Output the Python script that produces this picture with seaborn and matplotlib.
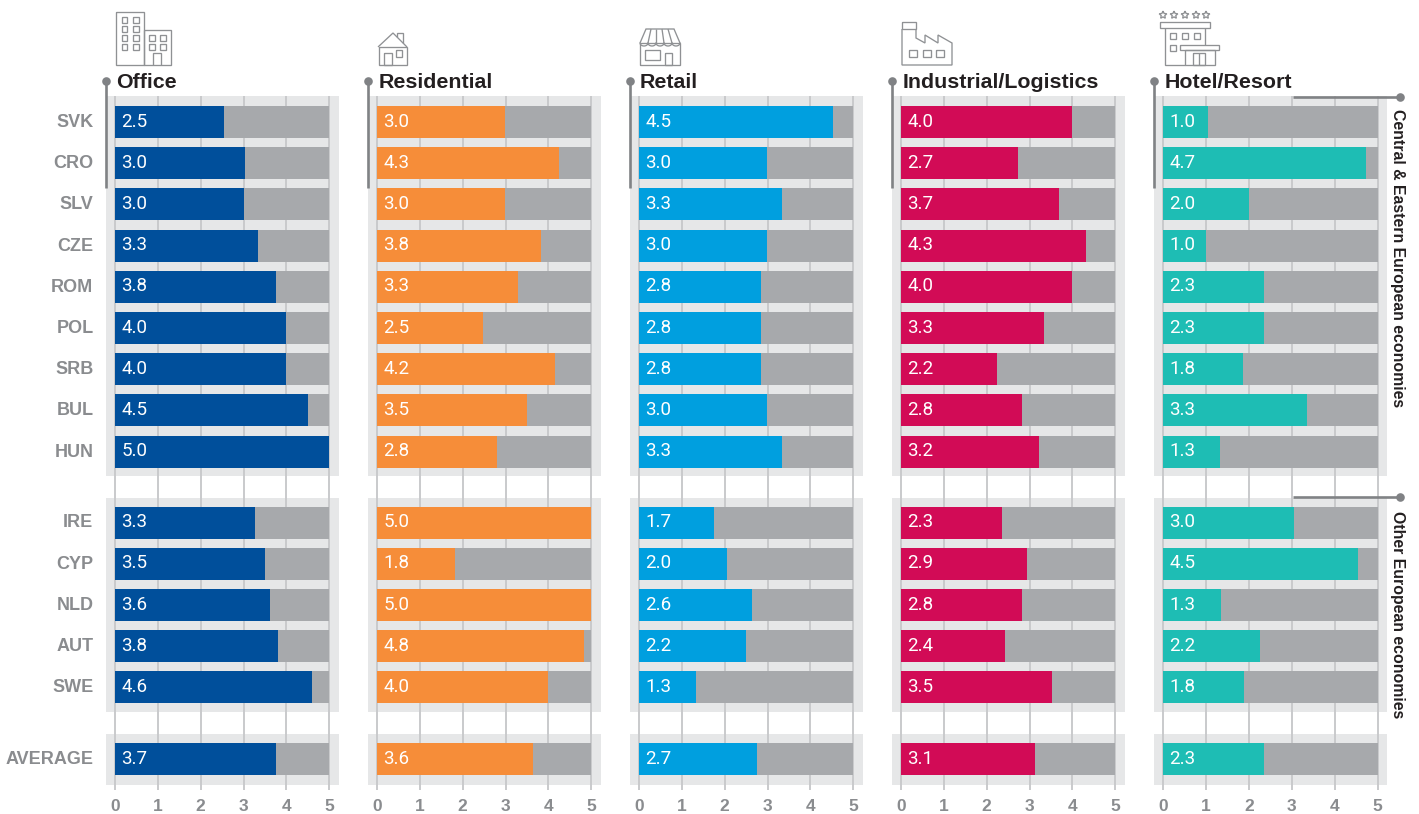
import matplotlib
matplotlib.use("Agg")
import matplotlib.pyplot as plt
from matplotlib.transforms import ScaledTranslation
import numpy as np
import pandas as pd
import seaborn as sns

W, H = 1419, 814

group_cee = ["SVK", "CRO", "SLV", "CZE", "ROM", "POL", "SRB", "BUL", "HUN"]
group_other = ["IRE", "CYP", "NLD", "AUT", "SWE"]
group_avg = ["AVERAGE"]

sectors = ["Office", "Residential", "Retail", "Industrial/Logistics", "Hotel/Resort"]
colors = ["#004f9b", "#f68d39", "#009fdf", "#d20b56", "#1ebdb4"]

# bar lengths as drawn
office = [2.54, 3.03, 3.0, 3.33, 3.75, 4.0, 4.0, 4.5, 5.0, 3.26, 3.5, 3.61, 3.8, 4.59, 3.75]
residential = [2.98, 4.24, 2.98, 3.82, 3.29, 2.47, 4.15, 3.5, 2.8, 5.0, 1.82, 5.0, 4.82, 4.0, 3.64]
retail = [4.52, 2.98, 3.33, 2.98, 2.84, 2.84, 2.84, 2.98, 3.33, 1.75, 2.05, 2.63, 2.49, 1.33, 2.75]
industrial = [4.0, 2.72, 3.68, 4.31, 4.0, 3.33, 2.24, 2.82, 3.21, 2.35, 2.93, 2.82, 2.42, 3.52, 3.12]
hotel = [1.05, 4.73, 2.0, 1.0, 2.35, 2.35, 1.87, 3.36, 1.33, 3.05, 4.55, 1.35, 2.26, 1.89, 2.35]

# printed labels
office_lab = [2.5, 3.0, 3.0, 3.3, 3.8, 4.0, 4.0, 4.5, 5.0, 3.3, 3.5, 3.6, 3.8, 4.6, 3.7]
residential_lab = [3.0, 4.3, 3.0, 3.8, 3.3, 2.5, 4.2, 3.5, 2.8, 5.0, 1.8, 5.0, 4.8, 4.0, 3.6]
retail_lab = [4.5, 3.0, 3.3, 3.0, 2.8, 2.8, 2.8, 3.0, 3.3, 1.7, 2.0, 2.6, 2.2, 1.3, 2.7]
industrial_lab = [4.0, 2.7, 3.7, 4.3, 4.0, 3.3, 2.2, 2.8, 3.2, 2.3, 2.9, 2.8, 2.4, 3.5, 3.1]
hotel_lab = [1.0, 4.7, 2.0, 1.0, 2.3, 2.3, 1.8, 3.3, 1.3, 3.0, 4.5, 1.3, 2.2, 1.8, 2.3]

scale_max = 5
ticks = [0, 1, 2, 3, 4, 5]
side_titles = ["Central & Eastern European economies", "Other European economies"]

lengths = [office, residential, retail, industrial, hotel]
labels = [office_lab, residential_lab, retail_lab, industrial_lab, hotel_lab]

sns.set_theme(style="white")
plt.rcParams["font.family"] = ["Liberation Sans", "DejaVu Sans"]

PANEL = "#e6e7e8"
REST = "#a7a9ac"
GRID = "#c9cacc"
GREY = "#808285"
DARK = "#231f20"
LABEL = "#8a8c8f"

fig = plt.figure(figsize=(W / 100, H / 100), dpi=100, facecolor="white")


def pxaxes(x0, y0, x1, y1, **kw):
    return fig.add_axes([x0 / W, 1 - y1 / H, (x1 - x0) / W, (y1 - y0) / H], **kw)


col_x0 = [115, 377, 639, 901, 1163.3]
title_x = [116, 378.5, 640, 902.5, 1165]
unit = 42.87
row = 41.2
bar_h = 32 / row
pad_l, pad_r = 9, 9.7

groups = [
    (group_cee, 0, 96, 476, 122),
    (group_other, 9, 498, 712, 522.5),
    (group_avg, 14, 734, 785, 759),
]
lift = ScaledTranslation(0, 1.1 / 72, fig.dpi_scale_trans)

for c, x0 in enumerate(col_x0):
    xlim = (-pad_l / unit, scale_max + pad_r / unit)
    left, right = x0 - pad_l, x0 + scale_max * unit + pad_r

    base = pxaxes(left, 96, right, 790)
    base.set_xlim(xlim)
    base.set_ylim(1, 0)
    base.set_xticks(ticks)
    base.set_yticks([])
    base.grid(axis="x", color=GRID, lw=1.4)
    for s in base.spines.values():
        s.set_visible(False)
    base.tick_params(axis="x", length=0, pad=6.5, labelsize=12.5, labelcolor=LABEL)
    for t in base.get_xticklabels():
        t.set_fontweight("bold")

    for names, start, top, bottom, first in groups:
        ax = pxaxes(left, top, right, bottom, zorder=2)
        end = start + len(names)
        df = pd.DataFrame({"code": names, "val": lengths[c][start:end],
                           "rest": [scale_max] * len(names)})
        sns.barplot(data=df, y="code", x="rest", order=names, color=REST, saturation=1,
                    width=bar_h, ax=ax, zorder=3, linewidth=0, edgecolor="none")
        sns.barplot(data=df, y="code", x="val", order=names, color=colors[c], saturation=1,
                    width=bar_h, ax=ax, zorder=4, linewidth=0, edgecolor="none")
        ax.set_facecolor(PANEL)
        ax.set_xlim(xlim)
        ax.set_ylim((bottom - first) / row, (top - first) / row)
        ax.set_xlabel("")
        ax.set_ylabel("")
        ax.set_xticks(ticks)
        ax.set_xticklabels([])
        ax.grid(axis="x", color=GRID, lw=1.4, zorder=1)
        ax.set_axisbelow(True)
        for s in ax.spines.values():
            s.set_visible(False)
        ax.tick_params(axis="both", length=0)
        if c == 0:
            ax.tick_params(axis="y", pad=9, labelsize=13, labelcolor=LABEL)
            for t in ax.get_yticklabels():
                t.set_fontweight("bold")
                t.set_transform(t.get_transform() + lift)
        else:
            ax.set_yticklabels([])
        for i, lab in enumerate(labels[c][start:end]):
            ax.annotate(f"{lab:.1f}", xy=(0, i), xytext=(4.4, 1.7), textcoords="offset points",
                        color="white", fontsize=13.5, va="center_baseline", ha="left",
                        family=["Roboto", "DejaVu Sans"], zorder=6)

# overlay in pixel coordinates: leaders, headings, pictograms
ov = fig.add_axes([0, 0, 1, 1], zorder=5)
ov.set_xlim(0, W)
ov.set_ylim(H, 0)
ov.axis("off")
ov.patch.set_alpha(0)

for c, x0 in enumerate(col_x0):
    lx = x0 - 9
    ov.plot([lx, lx], [81, 188], color=GREY, lw=1.9, solid_capstyle="butt")
    ov.plot([lx], [81], "o", color=GREY, ms=6.2, mew=0)
    ov.text(title_x[c], 81, sectors[c], color=DARK, fontsize=15.4, fontweight="bold",
            va="center_baseline", ha="left")

for y in (97, 497):
    ov.plot([1293, 1400], [y, y], color=GREY, lw=1.9, solid_capstyle="butt")
    ov.plot([1400], [y], "o", color=GREY, ms=6.2, mew=0)
ov.text(1397, 258.5, side_titles[0], rotation=-90, color=DARK, fontsize=11.4, fontweight="bold",
        va="center", ha="center")
ov.text(1397, 614.5, side_titles[1], rotation=-90, color=DARK, fontsize=11.4, fontweight="bold",
        va="center", ha="center")

IC = "#8f9194"
ILW = 0.95


def poly(pts, close=False):
    p = list(pts)
    if close:
        p.append(p[0])
    xs, ys = zip(*p)
    ov.plot(xs, ys, color=IC, lw=ILW, solid_joinstyle="miter", solid_capstyle="butt")


def rect(x0, y0, x1, y1):
    poly([(x0, y0), (x1, y0), (x1, y1), (x0, y1)], close=True)


# office
rect(116, 12, 143.5, 65)
rect(143.5, 29.5, 171, 65)
for yy in (17, 26, 35, 44):
    rect(121.5, yy, 127, yy + 5.5)
    rect(132.5, yy, 138.5, yy + 5.5)
for yy in (35, 44):
    rect(148.5, yy, 154.5, yy + 5.5)
    rect(160, yy, 166, yy + 5.5)
poly([(153, 65), (153, 53), (161, 53), (161, 65)])

# house
poly([(378, 47), (393, 33), (407, 47)])
rect(378.5, 47, 406.5, 65)
rect(383.5, 53, 392, 65)
rect(396, 50, 402, 57)
poly([(397, 37), (397, 33), (403, 33), (403, 43)])

# shop
poly([(640, 65), (640, 43), (680, 43), (680, 65), (640, 65)])
poly([(640, 43), (646, 29), (674, 29), (680, 43)])
for a, b in [(651, 648), (656, 656), (662, 664), (668, 672)]:
    poly([(a, 29), (b, 43)])
xs = np.linspace(640, 680, 6)
for a, b in zip(xs[:-1], xs[1:]):
    t = np.linspace(0, np.pi, 12)
    ov.plot((a + b) / 2 + (b - a) / 2 * np.cos(t), 43 + 3 * np.sin(t), color=IC, lw=ILW)
rect(645, 50, 660, 60)
rect(665, 53, 672, 65)

# factory
rect(902, 21.5, 916, 29)
poly([(902, 29), (902, 65), (952, 65), (952, 43), (938, 35), (938, 43), (925, 35),
      (925, 43), (916, 38), (916, 29)])
for a in (909, 923, 936):
    rect(a, 50, a + 8, 57)

# hotel
for sx in (1163, 1174, 1185, 1196, 1206):
    ang = np.pi / 2 + np.arange(10) * np.pi / 5
    rad = np.where(np.arange(10) % 2 == 0, 4.0, 1.9)
    poly(list(zip(sx + rad * np.cos(ang), 15 - rad * np.sin(ang))), close=True)
rect(1160, 22, 1210, 28)
poly([(1165, 28), (1165, 65), (1184.5, 65)])
poly([(1205, 28), (1205, 44.5)])
for a in (1170, 1182, 1194):
    rect(a, 33, a + 6, 38.5)
rect(1170, 45, 1176, 50.5)
rect(1180, 44.5, 1219, 50)
rect(1184.5, 50, 1215, 65)
rect(1193, 53, 1205, 65)
poly([(1199, 53), (1199, 65)])

fig.savefig("out.png", dpi=100, facecolor="white")
